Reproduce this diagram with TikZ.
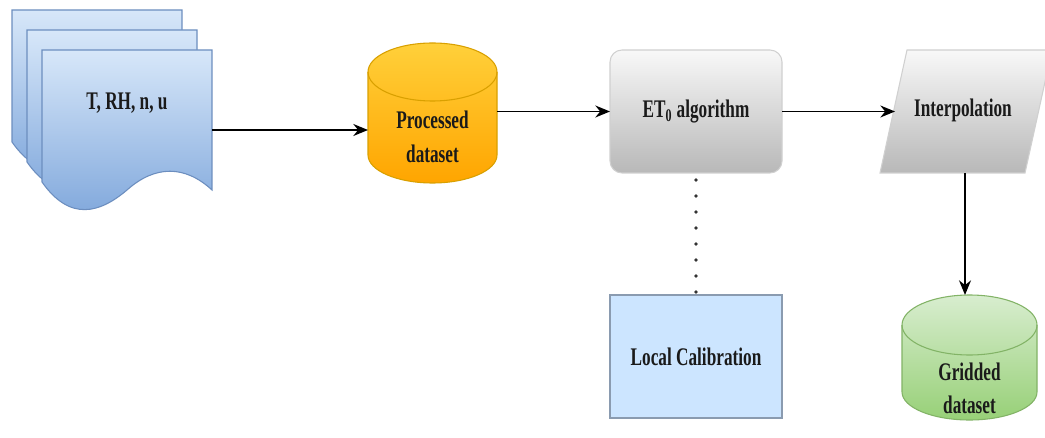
\documentclass[tikz,border=0pt]{standalone}
\usepackage{fontspec}
\setmainfont{Liberation Serif}[FakeStretch=0.68]
\usetikzlibrary{arrows.meta,fit}
\definecolor{pagetop}{HTML}{D7E7F9}
\definecolor{pagebot}{HTML}{7EA6DB}
\definecolor{pagestroke}{HTML}{6C8EBF}
\definecolor{orgtop}{HTML}{FFD03A}
\definecolor{orgbot}{HTML}{FFA500}
\definecolor{orgstroke}{HTML}{D9A000}
\definecolor{graytop}{HTML}{F8F8F8}
\definecolor{graybot}{HTML}{B8B8B8}
\definecolor{graystroke}{HTML}{D0D0D0}
\definecolor{calibfill}{HTML}{CCE5FF}
\definecolor{calibstroke}{HTML}{8A9BB0}
\definecolor{grntop}{HTML}{D8EDCF}
\definecolor{grnbot}{HTML}{97D077}
\definecolor{grnstroke}{HTML}{82B366}
\definecolor{txt}{HTML}{1A1A1A}
\begin{document}
\begin{tikzpicture}[x=0.75pt,y=0.75pt,
  lbl/.style={font=\fontsize{19}{25}\selectfont\bfseries, text=txt, align=center, inner sep=0pt},
  fitbox/.style={inner sep=0pt, outer sep=0pt},
  arr/.style={line width=1.1pt, draw=black, -{Stealth[length=11pt,width=9pt]}},
  dotline/.style={line width=2.8pt, line cap=round, dash pattern=on 0pt off 12pt, draw=black!80},
  page/.style={draw=pagestroke, line width=0.8pt, top color=pagetop, bottom color=pagebot},
  cylo/.style={draw=orgstroke, line width=0.8pt, top color=orgtop, bottom color=orgbot},
  cylg/.style={draw=grnstroke, line width=0.8pt, top color=grntop, bottom color=grnbot},
  grayshape/.style={draw=graystroke, line width=0.8pt, top color=graytop, bottom color=graybot},
  calibbox/.style={fitbox, draw=calibstroke, line width=0.8pt, fill=calibfill}]
\useasboundingbox (0,0) rectangle (1045,-438);
\clip (0,0) rectangle (1045,-438);
\fill[white] (0,0) rectangle (1045,-438);

% stacked documents
\foreach \dx/\dy in {-30/40,-15/20,0/0}{
  \begin{scope}[shift={(\dx,\dy)}]
    \path[page] (42,-50) -- (212,-50) -- (212,-190)
      .. controls (185,-165) and (155,-165) .. (127,-190)
      .. controls (100,-213) and (70,-222) .. (42,-182) -- cycle;
  \end{scope}
}
\node[fitbox, fit={(42,-50)(212,-210)}] (doc) {};
\node[lbl] (doctext) at (127,-103) {T, RH, n, u};

% processed dataset cylinder
\path[cylo] (368,-72) arc[start angle=180,end angle=0,x radius=48.375pt,y radius=21.75pt]
  -- (497,-155) arc[start angle=0,end angle=-180,x radius=48.375pt,y radius=21pt] -- cycle;
\draw[draw=orgstroke, line width=0.8pt] (368,-72) arc[start angle=180,end angle=360,x radius=48.375pt,y radius=21.75pt];
\node[fitbox, fit={(368,-43)(497,-183)}] (proc) {};
\node[lbl] (proctext) at (432.5,-137) {Processed\\dataset};

% ET0 algorithm
\node[fitbox, draw=graystroke, line width=0.8pt, rounded corners=9pt, top color=graytop, bottom color=graybot,
  fit={(610,-50)(782,-173)}] (et) {};
\node[lbl] (ettext) at (et.center) {ET\textsubscript{0} algorithm};

% Interpolation parallelogram
\path[grayshape] (907,-50) -- (1052,-50) -- (1025,-173) -- (880,-173) -- cycle;
\node[fitbox, fit={(895,-50)(1035,-173)}] (interp) {};
\node[lbl] (interptext) at (963,-110) {Interpolation};

% Local Calibration
\node[calibbox, fit={(610,-295)(782,-418)}] (calib) {};
\node[lbl] (calibtext) at (calib.center) {Local Calibration};

% Gridded dataset cylinder
\path[cylg] (902,-325) arc[start angle=180,end angle=0,x radius=50.625pt,y radius=22.5pt]
  -- (1037,-392) arc[start angle=0,end angle=-180,x radius=50.625pt,y radius=21pt] -- cycle;
\draw[draw=grnstroke, line width=0.8pt] (902,-325) arc[start angle=180,end angle=360,x radius=50.625pt,y radius=22.5pt];
\node[fitbox, fit={(902,-295)(1037,-420)}] (grid) {};
\node[lbl] (gridtext) at (969.5,-388) {Gridded\\dataset};

% connectors
\draw[arr] (doc.east) -- (doc.east -| proc.west);
\draw[arr] (proc.east |- et.west) -- (et.west);
\draw[arr] (et.east) -- (interp.west);
\draw[arr] (interp.south) -- (interp.south |- grid.north);
\draw[dotline] ([yshift=-5.25pt]et.south) -- (calib.north);
\end{tikzpicture}
\end{document}
